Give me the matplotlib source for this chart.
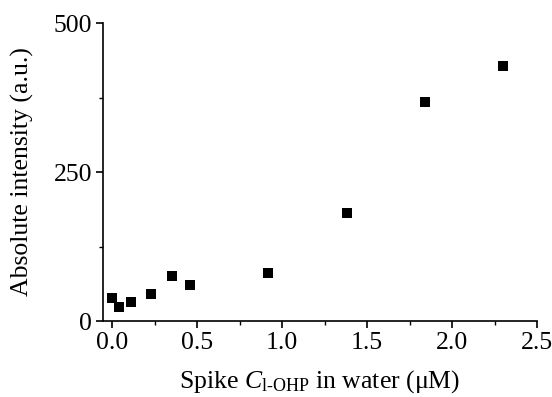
import matplotlib
matplotlib.use('Agg')
import matplotlib.pyplot as plt
from matplotlib.ticker import MultipleLocator

plt.rcParams['font.family'] = 'Liberation Serif'
plt.rcParams['mathtext.fontset'] = 'custom'
plt.rcParams['mathtext.rm'] = 'Liberation Serif'
plt.rcParams['mathtext.it'] = 'Liberation Serif:italic'

# spike concentration (uM) and measured intensity
spike_conc = [0.0, 0.04, 0.11, 0.23, 0.35, 0.46, 0.92, 1.38, 1.84, 2.30]
intensity = [38.5, 23.5, 32, 45, 75.5, 60, 80.5, 181, 367, 428]

fig = plt.figure(figsize=(5.52, 3.97), dpi=100)
ax = fig.add_axes([0.1866, 0.1914, 0.973 - 0.1866, 0.942 - 0.1914])

ax.scatter(spike_conc, intensity, marker='s', s=58, color='black', linewidths=0, zorder=3)

ax.set_xlim(-0.053, 2.5)
ax.set_ylim(0, 500)
ax.set_xticks([0.0, 0.5, 1.0, 1.5, 2.0, 2.5])
ax.set_xticklabels(['0.0', '0.5', '1.0', '1.5', '2.0', '2.5'])
ax.set_yticks([0, 250, 500])
ax.xaxis.set_minor_locator(MultipleLocator(0.25))
ax.yaxis.set_minor_locator(MultipleLocator(125))

for side in ['top', 'right']:
    ax.spines[side].set_visible(False)
for side in ['left', 'bottom']:
    ax.spines[side].set_linewidth(1.2)

ax.tick_params(which='major', direction='out', length=5, width=1.2, labelsize=18.5, pad=3)
ax.tick_params(which='minor', direction='out', length=3, width=1.0)

ax.set_xlabel(r'Spike $C_{\mathrm{l\text{-}OHP}}$ in water ($\mathrm{\mu}$M)', fontsize=18.5, labelpad=10)
ax.set_ylabel('Absolute intensity (a.u.)', fontsize=18.5, labelpad=14)

fig.savefig('out.png', dpi=100)
